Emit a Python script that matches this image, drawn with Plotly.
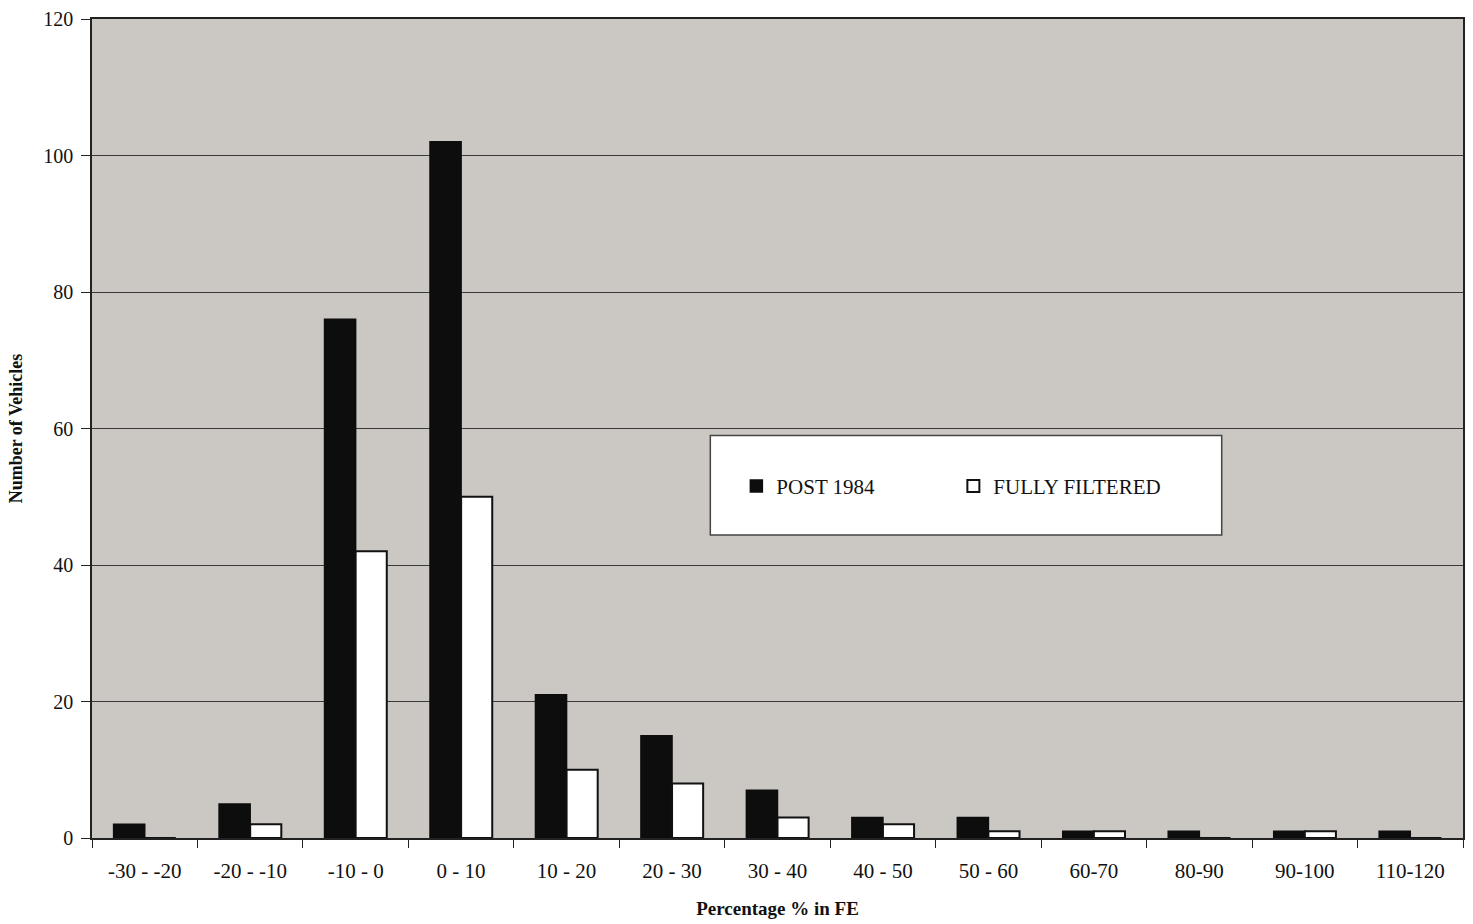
import plotly.graph_objects as go

# Percentage change in fuel economy, binned
categories = ["-30 - -20", "-20 - -10", "-10 - 0", "0 - 10", "10 - 20", "20 - 30",
              "30 - 40", "40 - 50", "50 - 60", "60-70", "80-90", "90-100", "110-120"]
post_1984 = [2, 5, 76, 102, 21, 15, 7, 3, 3, 1, 1, 1, 1]
fully_filtered = [0, 2, 42, 50, 10, 8, 3, 2, 1, 1, 0, 1, 0]

y_ticks = [0, 20, 40, 60, 80, 100, 120]

serif = "Liberation Serif, Times New Roman, serif"

fig = go.Figure()
fig.add_trace(go.Bar(
    x=categories, y=post_1984, name="POST 1984",
    marker=dict(color="#0d0d0d", line=dict(color="#0d0d0d", width=1.5)),
))
fig.add_trace(go.Bar(
    x=categories, y=fully_filtered, name="FULLY FILTERED",
    marker=dict(color="#ffffff", line=dict(color="#111111", width=2)),
))

# White legend panel
fig.add_shape(type="rect", xref="paper", yref="paper",
              x0=0.451, x1=0.824, y0=0.370, y1=0.4915,
              fillcolor="#ffffff", line=dict(color="#444444", width=1.5), layer="above")

fig.update_layout(
    width=1473, height=924,
    margin=dict(l=92, r=8, t=17, b=85),
    paper_bgcolor="#ffffff",
    plot_bgcolor="#cbc8c3",
    barmode="group",
    bargap=0.41,
    bargroupgap=0.0,
    font=dict(family=serif, color="#111111", size=18),
    showlegend=True,
    legend=dict(
        orientation="h", x=0.470, y=0.4294, xanchor="left", yanchor="middle",
        bgcolor="rgba(0,0,0,0)", borderwidth=0,
        font=dict(family=serif, size=21, color="#111111"),
        entrywidth=172, entrywidthmode="pixels",
        itemwidth=30, traceorder="normal",
    ),
    xaxis=dict(
        type="category",
        tickson="boundaries", ticks="outside", ticklen=8, tickcolor="#222222",
        ticklabelstandoff=13,
        showline=True, linecolor="#222222", linewidth=1.5, mirror=True,
        showgrid=False,
        tickfont=dict(family=serif, size=21),
        title=dict(text="<b>Percentage % in FE</b>", font=dict(family=serif, size=19), standoff=20),
    ),
    yaxis=dict(
        range=[0, 120], tickvals=y_ticks,
        ticks="outside", ticklen=9, tickcolor="#222222",
        ticklabelstandoff=4,
        showline=True, linecolor="#222222", linewidth=1.5, mirror=True,
        showgrid=True, gridcolor="#3a3a3a", gridwidth=1,
        zeroline=False,
        tickfont=dict(family=serif, size=20),
        title=dict(text="<b>Number of Vehicles</b>", font=dict(family=serif, size=18), standoff=16),
    ),
)

fig.write_html("out.html")
